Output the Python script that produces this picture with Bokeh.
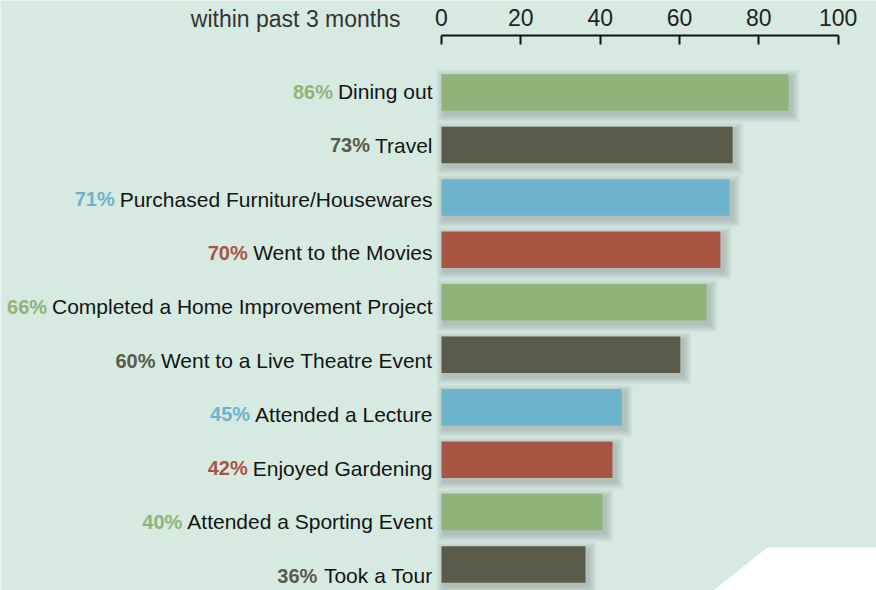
from bokeh.plotting import figure
from bokeh.models import Range1d, LinearAxis, FixedTicker, Label, ColumnDataSource
from bokeh.core.properties import value
from bokeh.embed import file_html
from bokeh.resources import INLINE

# ---------------- data ----------------
categories = ["Dining out", "Travel", "Purchased Furniture/Housewares",
              "Went to the Movies", "Completed a Home Improvement Project",
              "Went to a Live Theatre Event", "Attended a Lecture",
              "Enjoyed Gardening", "Attended a Sporting Event", "Took a Tour"]
percent_labels = [86, 73, 71, 70, 66, 60, 45, 42, 40, 36]
bar_values = [87.5, 73.4, 72.6, 70.3, 66.8, 60.2, 45.4, 43.1, 40.6, 36.3]
palette = ["#8fb47a", "#5b5b4a", "#6db3cc", "#a85442"]
tick_values = [0, 20, 40, 60, 80, 100]
title_text = "within past 3 months"

# ---------------- layout constants (pixels inside the figure) ----------------
W, H = 876, 590
X0_PX = 441.0          # pixel of value 0
PPU = 3.967            # pixels per unit on x
AXIS_Y_PX = 35.0       # axis line
ROW0_PX = 92.0         # centre of first bar
ROW_PX = 52.45         # bar spacing
BAR_H_PX = 36.5
LABEL_ROW0_PX = 91.0
LABEL_ROW_PX = 53.8    # label spacing (slightly larger than bar spacing)
LABEL_SIZE = 21
BG = "#d6eae2"

# Liberation Sans (Arial metric) advance widths, units per 1000
W_REG = {' ': 278, '/': 278, '%': 889}
W_REG.update({d: 556 for d in "0123456789"})
W_REG.update(dict(zip("ABCDEFGHIJKLMNOPQRSTUVWXYZ",
    [667, 667, 722, 722, 667, 611, 778, 722, 278, 500, 667, 556, 833, 722, 778,
     667, 778, 722, 667, 611, 722, 667, 944, 667, 667, 611])))
W_REG.update(dict(zip("abcdefghijklmnopqrstuvwxyz",
    [556, 556, 500, 556, 556, 278, 556, 556, 222, 222, 500, 222, 833, 556, 556,
     556, 556, 333, 500, 278, 556, 500, 722, 500, 500, 500])))
KERN = {"To": -74, "Tr": -37, "Tw": -18, "Ty": -74}


def text_width(s, size):
    w = sum(W_REG.get(c, 556) for c in s)
    w += sum(KERN.get(s[i:i + 2], 0) for i in range(len(s) - 1))
    return w * size / 1000.0


def dx(px):
    return (px - X0_PX) / PPU


def dy(px):
    return (px - ROW0_PX) / ROW_PX


n = len(categories)
idx = list(range(n))
colors = [palette[i % len(palette)] for i in idx]

p = figure(width=W, height=H, output_backend="svg", toolbar_location=None,
           x_range=Range1d(dx(0), dx(W)), y_range=Range1d(dy(H), dy(0)),
           x_axis_location=None, y_axis_location=None,
           min_border_left=0, min_border_right=0, min_border_top=0, min_border_bottom=0)
p.background_fill_color = BG
p.border_fill_color = BG
p.outline_line_color = None
p.xgrid.visible = False
p.ygrid.visible = False

# top axis, drawn at a fixed location inside the frame
ax = LinearAxis(ticker=FixedTicker(ticks=tick_values), bounds=(0, 100),
                fixed_location=dy(AXIS_Y_PX))
ax.axis_line_color = "#111111"
ax.axis_line_width = 2
ax.major_tick_line_color = "#111111"
ax.major_tick_line_width = 2
ax.major_tick_in = 9
ax.major_tick_out = 0
ax.minor_tick_in = 0
ax.minor_tick_out = 0
ax.major_label_standoff = 10
ax.major_label_text_font = "Liberation Sans"
ax.major_label_text_font_size = "23px"
ax.major_label_text_color = "#222222"
p.add_layout(ax, "above")

# decorative white corner
corner_x = [dx(767), dx(900), dx(900), dx(700.4)]
corner_y = [dy(547), dy(547), dy(600), dy(600)]
p.patch(corner_x, corner_y, fill_color="white", line_color=None)

# soft shadows
bar_h = BAR_H_PX / ROW_PX
for k in range(1, 9):
    pad = 1.0 * k
    off_x, off_y = 3.0, 3.5
    p.hbar(y=[i + off_y / ROW_PX for i in idx],
           left=[-(pad - off_x) / PPU] * n,
           right=[v + (pad + off_x) / PPU for v in bar_values],
           height=(BAR_H_PX + 2 * pad) / ROW_PX,
           fill_color="#34423a", fill_alpha=0.03, line_color=None)

# bars
src = ColumnDataSource(dict(y=idx, v=bar_values, c=colors))
p.hbar(y="y", left=0, right="v", height=bar_h, fill_color="c", line_color=None, source=src)

# labels
NAME_RIGHT_PX = 432.0
name_offsets = [NAME_RIGHT_PX - X0_PX] * n
label_dy = [(LABEL_ROW0_PX + LABEL_ROW_PX * i) - (ROW0_PX + ROW_PX * i) for i in idx]
pct_text = [f"{v}%" for v in percent_labels]
pct_offsets = [NAME_RIGHT_PX - X0_PX - text_width(c, LABEL_SIZE) - 5.0 for c in categories]

lsrc = ColumnDataSource(dict(y=idx, name=categories, pct=pct_text, c=colors,
                             nx=name_offsets, px=pct_offsets, oy=label_dy,
                             x=[0] * n))
p.text(x="x", y="y", text="name", x_offset="nx", y_offset="oy", source=lsrc,
       text_align="right", text_baseline="middle", text_color="#141414",
       text_font=value("Liberation Sans"), text_font_size=f"{LABEL_SIZE}px")
p.text(x="x", y="y", text="pct", x_offset="px", y_offset="oy", source=lsrc,
       text_align="right", text_baseline="middle", text_color="c",
       text_font=value("Liberation Sans"), text_font_style="bold",
       text_font_size=f"{LABEL_SIZE - 1}px")

# caption left of the axis
p.add_layout(Label(x=dx(400), y=dy(18), text=title_text, text_align="right",
                   text_baseline="alphabetic", text_font="Liberation Sans",
                   text_font_size="23px", text_color="#333333"))

open("out.html", "w").write(file_html(p, INLINE))
